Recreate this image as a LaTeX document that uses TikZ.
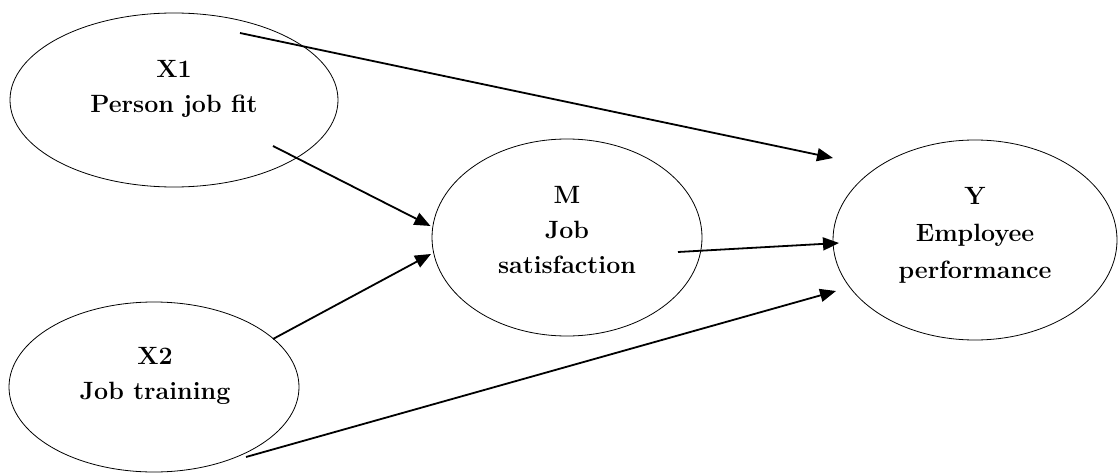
\documentclass[tikz,border=0pt]{standalone}
\usepackage{fontspec}
\usetikzlibrary{arrows.meta,shapes.geometric}
\begin{document}
\begin{tikzpicture}[x=1pt,y=-1pt,
  oval/.style={draw, ellipse, line width=0.8pt, inner sep=0pt},
  lbl/.style={font=\fontsize{25}{35}\selectfont\bfseries, align=center, inner sep=0pt},
  arr/.style={line width=1.8pt, -{Triangle[length=16pt,width=13pt]}}]
\useasboundingbox (0,0) rectangle (1118,473);
% ellipses
\node[oval, minimum width=328pt, minimum height=174pt] (x1) at (174,100) {};
\node[oval, minimum width=290pt, minimum height=170pt] (x2) at (154,387) {};
\node[oval, minimum width=270pt, minimum height=197pt] (m) at (567,237.5) {};
\node[oval, minimum width=284pt, minimum height=200pt] (y) at (975,240) {};
% labels
\node[lbl] (x1t) at (174,88.5) {X1\\Person job fit};
\node[lbl] (x2t) at (155,375.5) {X2\\Job training};
\node[lbl] (mt) at (567,230) {M\\Job\\satisfaction};
\node[lbl, font=\fontsize{25}{37}\selectfont\bfseries] (yt) at (975,235) {Y\\Employee\\performance};
% connector end points
\coordinate (s1) at (240,33);   \coordinate (t1) at (833,158);
\coordinate (s2) at (273,146);  \coordinate (t2) at (430.5,226);
\coordinate (s3) at (273,339);  \coordinate (t3) at (431,254);
\coordinate (s4) at (678,252);  \coordinate (t4) at (839,243);
\coordinate (s5) at (246,457);  \coordinate (t5) at (836,291);
% connectors
\draw[arr] (s1) -- (t1);
\draw[arr] (s2) -- (t2);
\draw[arr] (s3) -- (t3);
\draw[arr] (s4) -- (t4);
\draw[arr] (s5) -- (t5);
\end{tikzpicture}
\end{document}
